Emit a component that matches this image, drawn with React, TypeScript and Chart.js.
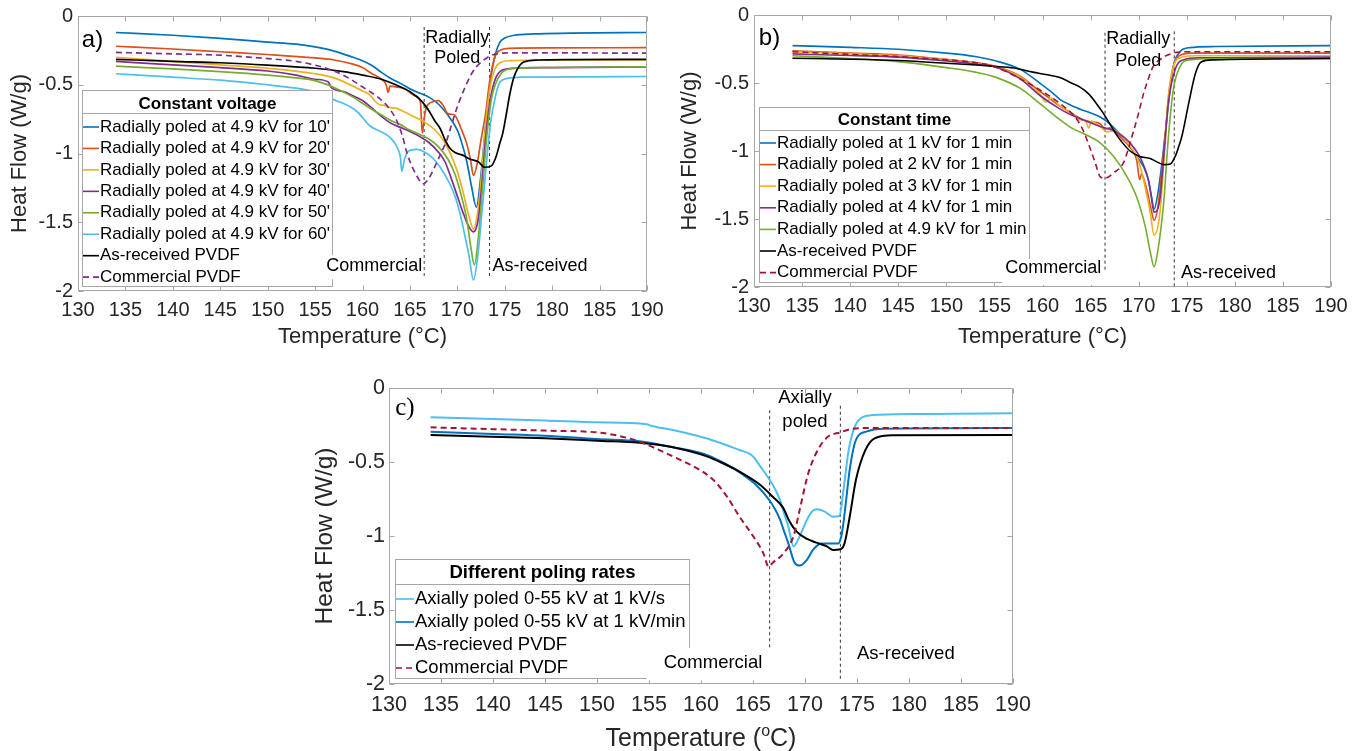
import React, { useEffect, useRef } from "react";
import { Chart, registerables } from "chart.js";

Chart.register(...registerables);

type Pt = [number, number];

const SANS = '"Liberation Sans", Arial, Helvetica, sans-serif';
const SERIF = '"Liberation Serif", "Times New Roman", serif';
const INK = "#262626";
const FRAME = "#a6a6a6";

// ---------- axes ----------
const tempTicks = [130, 135, 140, 145, 150, 155, 160, 165, 170, 175, 180, 185, 190];
const flowTicks = [0, -0.5, -1, -1.5, -2];

// ---------- panel a: constant voltage ----------
const aPoled10: Pt[] = [[134,-0.12],[140,-0.14],[145,-0.163],[150,-0.19],[153,-0.205],[155,-0.225],[157,-0.255],[159,-0.3],[160,-0.325],[161,-0.36],[162,-0.41],[163,-0.455],[164,-0.49],[165,-0.53],[166,-0.56],[167,-0.59],[168,-0.64],[169,-0.72],[170,-0.83],[170.5,-0.93],[171,-1.06],[171.5,-1.24],[172,-1.39],[172.5,-1.15],[173,-0.78],[173.5,-0.46],[174,-0.28],[174.5,-0.19],[175,-0.16],[176,-0.14],[178,-0.13],[182,-0.125],[190,-0.12]];
const aPoled20: Pt[] = [[134,-0.22],[140,-0.24],[145,-0.26],[150,-0.28],[155,-0.305],[157,-0.32],[159,-0.35],[160,-0.375],[161,-0.42],[162,-0.46],[162.5,-0.5],[162.7,-0.555],[162.9,-0.51],[163.5,-0.515],[164.5,-0.53],[165.5,-0.58],[166.1,-0.62],[166.3,-0.85],[166.5,-0.75],[166.7,-0.67],[167.2,-0.63],[168,-0.615],[168.5,-0.65],[169,-0.71],[169.7,-0.72],[170.4,-0.82],[171,-0.93],[171.4,-1.05],[171.7,-1.16],[172.1,-1.07],[172.5,-0.9],[173,-0.7],[173.4,-0.48],[174,-0.29],[174.5,-0.25],[175.5,-0.235],[180,-0.232],[190,-0.23]];
const aPoled30: Pt[] = [[134,-0.3],[140,-0.33],[145,-0.355],[150,-0.38],[155,-0.42],[157,-0.45],[159,-0.51],[160,-0.545],[160.8,-0.575],[161.2,-0.61],[161.8,-0.645],[162.3,-0.65],[162.8,-0.665],[163.5,-0.67],[164.5,-0.7],[165.5,-0.735],[166.5,-0.77],[167.5,-0.82],[168.5,-0.9],[169.2,-0.99],[170,-1.13],[170.6,-1.28],[171.2,-1.45],[171.7,-1.55],[172.2,-1.4],[172.6,-1.12],[173,-0.78],[173.5,-0.5],[174,-0.38],[174.5,-0.34],[175.5,-0.325],[180,-0.32],[190,-0.32]];
const aPoled40: Pt[] = [[134,-0.33],[140,-0.355],[145,-0.375],[150,-0.4],[153,-0.43],[155,-0.46],[156.4,-0.48],[156.7,-0.52],[158,-0.55],[159,-0.58],[160,-0.615],[161,-0.67],[162,-0.73],[163,-0.78],[164,-0.81],[165,-0.84],[166,-0.875],[167,-0.92],[168,-0.99],[168.7,-1.06],[169.3,-1.17],[170,-1.31],[170.6,-1.43],[171.2,-1.53],[171.7,-1.57],[172.2,-1.48],[172.6,-1.22],[173,-0.88],[173.5,-0.6],[174,-0.46],[174.7,-0.395],[176,-0.38],[180,-0.375],[190,-0.37]];
const aPoled50: Pt[] = [[134,-0.365],[140,-0.385],[145,-0.405],[150,-0.43],[153,-0.45],[155,-0.47],[157,-0.52],[159,-0.59],[160,-0.635],[161,-0.68],[162,-0.72],[163,-0.76],[164,-0.79],[165,-0.83],[166,-0.86],[167,-0.895],[168,-0.95],[169,-1.04],[169.8,-1.16],[170.5,-1.33],[171,-1.48],[171.4,-1.67],[171.8,-1.81],[172.2,-1.62],[172.6,-1.3],[173.1,-0.88],[173.6,-0.6],[174,-0.5],[174.6,-0.42],[175.5,-0.385],[178,-0.375],[190,-0.37]];
const aPoled60: Pt[] = [[134,-0.42],[140,-0.445],[145,-0.467],[150,-0.5],[153,-0.525],[155,-0.55],[157,-0.61],[158.7,-0.66],[159.5,-0.7],[160.8,-0.8],[162.2,-0.85],[163,-0.89],[163.7,-0.96],[164,-1.03],[164.15,-1.13],[164.4,-1.05],[164.8,-0.985],[165.7,-0.97],[166.8,-1.0],[167.5,-1.04],[168.2,-1.1],[169.2,-1.22],[169.8,-1.32],[170.3,-1.44],[170.8,-1.6],[171.2,-1.73],[171.7,-1.92],[172.1,-1.78],[172.5,-1.5],[173,-1.12],[173.5,-0.78],[174,-0.59],[174.5,-0.48],[175.2,-0.455],[177,-0.445],[190,-0.44]];
const aReceived: Pt[] = [[134,-0.315],[140,-0.33],[145,-0.34],[150,-0.357],[155,-0.38],[158,-0.405],[160,-0.43],[162,-0.46],[163.5,-0.5],[165,-0.55],[165.6,-0.58],[166.1,-0.61],[166.6,-0.65],[167.1,-0.7],[167.6,-0.76],[168.2,-0.82],[168.7,-0.9],[169.2,-0.96],[169.8,-0.995],[170.5,-1.01],[171.3,-1.04],[172.2,-1.06],[172.9,-1.1],[173.6,-1.09],[174.1,-1.02],[174.5,-0.92],[174.8,-0.85],[175.2,-0.7],[175.5,-0.58],[175.9,-0.46],[176.3,-0.39],[177,-0.335],[178.5,-0.32],[182,-0.317],[190,-0.315]];
const aCommercial: Pt[] = [[134,-0.265],[140,-0.275],[145,-0.285],[150,-0.31],[153,-0.33],[155,-0.358],[157,-0.4],[158.5,-0.45],[160.1,-0.52],[161,-0.56],[161.8,-0.6],[162.8,-0.67],[163.6,-0.76],[164.2,-0.87],[164.7,-1.0],[165.2,-1.09],[165.7,-1.16],[166.4,-1.22],[167,-1.18],[167.8,-1.07],[168.4,-0.98],[168.9,-0.9],[169.4,-0.79],[169.9,-0.68],[170.5,-0.57],[171,-0.49],[171.5,-0.42],[172,-0.37],[173.1,-0.305],[174.1,-0.275],[176,-0.268],[190,-0.27]];
const aLabels = ["Radially poled at 4.9 kV for 10'", "Radially poled at 4.9 kV for 20'", "Radially poled at 4.9 kV for 30'", "Radially poled at 4.9 kV for 40'", "Radially poled at 4.9 kV for 50'", "Radially poled at 4.9 kV for 60'", "As-received PVDF", "Commercial PVDF"];
const aColors = ["#0072BD", "#D95319", "#EDB120", "#7E2F8E", "#77AC30", "#4DBEEE", "#000000", "#7E2F8E"];
const aData = [aPoled10, aPoled20, aPoled30, aPoled40, aPoled50, aPoled60, aReceived, aCommercial];
const aMarkers: [number, number, number][] = [[166.5, -0.08, -1.9], [173.4, -0.08, -1.9]];

// ---------- panel b: constant time ----------
const bKv1: Pt[] = [[134,-0.225],[140,-0.238],[145,-0.252],[150,-0.28],[153,-0.305],[155,-0.335],[157.7,-0.4],[159.7,-0.5],[161,-0.57],[161.8,-0.62],[163,-0.665],[164.2,-0.7],[165,-0.72],[166,-0.75],[167,-0.8],[167.7,-0.85],[168.5,-0.92],[169.1,-0.97],[170.1,-1.07],[170.6,-1.13],[171,-1.21],[171.3,-1.32],[171.6,-1.43],[172,-1.31],[172.4,-1.1],[172.8,-0.85],[173.1,-0.65],[173.6,-0.38],[174.3,-0.27],[175.3,-0.24],[178,-0.232],[190,-0.225]];
const bKv2: Pt[] = [[134,-0.264],[140,-0.28],[145,-0.294],[150,-0.326],[153,-0.35],[155,-0.375],[157.7,-0.45],[159.7,-0.56],[160.5,-0.6],[161.8,-0.67],[163,-0.72],[164.2,-0.77],[165,-0.785],[166,-0.8],[166.5,-0.84],[167,-0.83],[167.5,-0.86],[168.4,-0.92],[169.4,-1.0],[169.8,-1.07],[170.1,-1.21],[170.3,-1.17],[170.6,-1.22],[170.9,-1.3],[171.3,-1.43],[171.6,-1.51],[172,-1.41],[172.4,-1.15],[172.8,-0.85],[173.1,-0.6],[173.6,-0.38],[174.5,-0.29],[175.7,-0.28],[190,-0.28]];
const bKv3: Pt[] = [[134,-0.27],[140,-0.285],[145,-0.3],[150,-0.33],[153,-0.355],[155,-0.38],[157.7,-0.455],[159.7,-0.58],[160.4,-0.64],[160.9,-0.61],[161.8,-0.67],[163.2,-0.73],[163.9,-0.77],[164.5,-0.78],[164.8,-0.83],[165.1,-0.78],[165.6,-0.8],[166,-0.82],[166.7,-0.86],[167.5,-0.85],[168.7,-0.93],[169.8,-1.04],[170.3,-1.15],[170.8,-1.31],[171.2,-1.45],[171.6,-1.62],[172.2,-1.46],[172.6,-1.1],[173.1,-0.6],[173.6,-0.38],[174.5,-0.31],[176,-0.3],[190,-0.3]];
const bKv4: Pt[] = [[134,-0.286],[140,-0.298],[145,-0.31],[150,-0.338],[153,-0.36],[155,-0.38],[157.7,-0.47],[159.7,-0.59],[161.8,-0.69],[163,-0.735],[164.2,-0.77],[166,-0.82],[167.7,-0.86],[169.1,-0.94],[170.1,-1.04],[170.6,-1.12],[171,-1.21],[171.3,-1.33],[171.6,-1.45],[172.2,-1.36],[172.6,-1.05],[173.1,-0.64],[173.8,-0.4],[174.6,-0.33],[176.4,-0.315],[190,-0.31]];
const bKv49: Pt[] = [[134,-0.3],[140,-0.32],[145,-0.343],[150,-0.387],[153,-0.42],[155,-0.455],[157.7,-0.54],[159.7,-0.65],[161.8,-0.77],[163,-0.83],[164.2,-0.87],[166,-0.94],[167.4,-1.04],[168.8,-1.19],[169.8,-1.34],[170.7,-1.56],[171.2,-1.74],[171.6,-1.85],[172,-1.73],[172.6,-1.38],[173.1,-0.89],[173.6,-0.55],[174.3,-0.38],[175.3,-0.33],[178,-0.322],[190,-0.32]];
const bReceived: Pt[] = [[134,-0.318],[140,-0.325],[145,-0.335],[150,-0.355],[155,-0.378],[157,-0.39],[159,-0.42],[160.5,-0.44],[161.8,-0.46],[163,-0.5],[163.9,-0.53],[164.8,-0.58],[165.6,-0.65],[166.3,-0.72],[167,-0.8],[167.6,-0.87],[168.1,-0.92],[169.1,-1.0],[170.1,-1.04],[171.2,-1.055],[171.9,-1.08],[172.6,-1.1],[173.3,-1.095],[173.8,-1.04],[174.2,-0.96],[174.5,-0.89],[175.2,-0.65],[175.9,-0.43],[176.5,-0.345],[177.8,-0.33],[190,-0.32]];
const bCommercial: Pt[] = [[134,-0.27],[140,-0.29],[145,-0.306],[150,-0.33],[153,-0.35],[155,-0.38],[157.7,-0.47],[159.7,-0.55],[161.8,-0.65],[163.6,-0.77],[164.3,-0.86],[164.9,-0.97],[165.5,-1.09],[166,-1.19],[166.5,-1.2],[167.4,-1.16],[168.4,-1.09],[168.9,-0.99],[169.4,-0.87],[170,-0.72],[170.5,-0.58],[171,-0.47],[171.5,-0.38],[172.6,-0.31],[173.6,-0.28],[175,-0.27],[190,-0.27]];
const bLabels = ["Radially poled at 1 kV for 1 min", "Radially poled at 2 kV for 1 min", "Radially poled at 3 kV for 1 min", "Radially poled at 4 kV for 1 min", "Radially poled at 4.9 kV for 1 min", "As-received PVDF", "Commercial PVDF"];
const bColors = ["#0072BD", "#D95319", "#EDB120", "#7E2F8E", "#77AC30", "#000000", "#A2142F"];
const bData = [bKv1, bKv2, bKv3, bKv4, bKv49, bReceived, bCommercial];
const bMarkers: [number, number, number][] = [[166.5, -0.13, -1.88], [173.7, -0.12, -2.0]];

// ---------- panel c: different poling rates ----------
const cPerSecond: Pt[] = [[134,-0.198],[140,-0.21],[145,-0.22],[150,-0.232],[154.8,-0.245],[155.2,-0.255],[157.3,-0.284],[160.5,-0.34],[162,-0.375],[163.7,-0.419],[164.7,-0.445],[165.1,-0.47],[165.7,-0.53],[166.6,-0.62],[167.1,-0.68],[167.6,-0.757],[168,-0.85],[168.4,-0.937],[168.9,-1.07],[169.5,-1.0],[170,-0.92],[170.5,-0.85],[171.1,-0.82],[171.9,-0.835],[172.7,-0.87],[173.3,-0.865],[173.7,-0.69],[174.2,-0.42],[174.8,-0.26],[175.6,-0.195],[177.2,-0.18],[182,-0.175],[190,-0.171]];
const cPerMinute: Pt[] = [[134,-0.295],[140,-0.31],[145,-0.322],[150,-0.345],[154.1,-0.36],[157.3,-0.4],[160.5,-0.45],[162,-0.5],[163.4,-0.555],[165.3,-0.655],[166.6,-0.76],[167.2,-0.83],[167.6,-0.89],[168,-0.97],[168.4,-1.05],[169,-1.18],[169.5,-1.2],[170.2,-1.16],[170.8,-1.09],[171.6,-1.05],[172.4,-1.05],[173.2,-1.05],[173.5,-1.0],[173.7,-0.91],[174,-0.73],[174.3,-0.55],[174.9,-0.35],[175.9,-0.295],[177.5,-0.275],[190,-0.27]];
const cReceived: Pt[] = [[134,-0.318],[140,-0.33],[145,-0.34],[150,-0.356],[154.1,-0.37],[157.3,-0.4],[160.5,-0.46],[162,-0.505],[163.7,-0.565],[165.7,-0.655],[166.9,-0.735],[167.9,-0.81],[168.5,-0.9],[169.2,-0.97],[170.2,-1.02],[171.1,-1.045],[172.1,-1.07],[172.7,-1.095],[173.4,-1.09],[173.8,-1.05],[174.3,-0.87],[174.9,-0.62],[175.8,-0.42],[176.7,-0.34],[178.5,-0.32],[190,-0.318]];
const cCommercial: Pt[] = [[134,-0.266],[140,-0.278],[145,-0.288],[150,-0.3],[152,-0.322],[154.1,-0.363],[156,-0.42],[158,-0.486],[159.9,-0.554],[161.2,-0.622],[162.5,-0.734],[163.7,-0.869],[165,-1.0],[166,-1.117],[166.5,-1.207],[166.9,-1.18],[167.9,-1.12],[168.9,-1.0],[169.5,-0.82],[170.3,-0.58],[171.3,-0.41],[172.2,-0.33],[173.4,-0.3],[174.6,-0.275],[177,-0.27],[190,-0.27]];
const cLabels = ["Axially poled 0-55 kV at 1 kV/s", "Axially poled 0-55 kV at 1 kV/min", "As-recieved PVDF", "Commercial PVDF"];
const cColors = ["#4DBEEE", "#0072BD", "#000000", "#A2142F"];
const cData = [cPerSecond, cPerMinute, cReceived, cCommercial];
const cMarkers: [number, number, number][] = [[166.6, -0.15, -1.76], [173.4, -0.12, -1.98]];

// ---------- types ----------
interface Series { label: string; color: string; dashed: boolean; data: Pt[] }
interface Note { text: string; x: number; y: number; align: CanvasTextAlign; size: number; serif?: boolean; bg?: [number, number, number, number] }
interface LegendSpec {
  left: number; top: number; width: number; height: number; title: string;
  titleY: number; sepY: number; firstRowY: number; rowH: number; sampleW: number; textX: number; fontSize: number;
  series: Series[];
}
interface PanelSpec {
  key: string;
  left: number; top: number; width: number; height: number;
  pad: { top: number; right: number; bottom: number; left: number };
  yAxisW: number; xAxisH: number;
  tickSize: number; xTickPad: number; yTickPad: number;
  titleSize: number; xTitle: string | null; xTitlePad: number; yTitlePad: number;
  supTitleY?: number; supTitleSize?: number;
  lineWidth: number;
  series: Series[]; markers: [number, number, number][]; notes: Note[];
  legend: LegendSpec;
}

const makeSeries = (labels: string[], colors: string[], data: Pt[][]): Series[] =>
  labels.map((label, i) => ({ label, color: colors[i], dashed: i === labels.length - 1, data: data[i] }));

const aSeries = makeSeries(aLabels, aColors, aData);
const bSeries = makeSeries(bLabels, bColors, bData);
const cSeries = makeSeries(cLabels, cColors, cData);

const aNotes: Note[] = [
  { text: "a)", x: 130.4, y: -0.18, align: "left", size: 24 },
  { text: "Radially", x: 170.0, y: -0.16, align: "center", size: 18 },
  { text: "Poled", x: 170.0, y: -0.308, align: "center", size: 18 },
  { text: "Commercial", x: 166.3, y: -1.82, align: "right", size: 18, bg: [1, 2, 1, 4] },
  { text: "As-received", x: 173.7, y: -1.82, align: "left", size: 18 },
];
const bNotes: Note[] = [
  { text: "b)", x: 130.5, y: -0.17, align: "left", size: 24 },
  { text: "Radially", x: 169.95, y: -0.18, align: "center", size: 18 },
  { text: "Poled", x: 169.95, y: -0.336, align: "center", size: 18 },
  { text: "Commercial", x: 166.1, y: -1.86, align: "right", size: 18, bg: [3, 0, 2, 8] },
  { text: "As-received", x: 174.4, y: -1.9, align: "left", size: 18 },
];
const cNotes: Note[] = [
  { text: "c)", x: 130.6, y: -0.14, align: "left", size: 25, serif: true },
  { text: "Axially", x: 170.0, y: -0.07, align: "center", size: 18.5 },
  { text: "poled", x: 170.0, y: -0.227, align: "center", size: 18.5 },
  { text: "Commercial", x: 165.9, y: -1.86, align: "right", size: 18.5, bg: [17, 6, 3, 8] },
  { text: "As-received", x: 175.0, y: -1.8, align: "left", size: 18.5 },
];

const aLegend: LegendSpec = { left: 82, top: 90, width: 251, height: 197, title: "Constant voltage", titleY: 14, sepY: 23, firstRowY: 37, rowH: 21.45, sampleW: 16, textX: 18, fontSize: 17, series: aSeries };
const bLegend: LegendSpec = { left: 759, top: 107, width: 271, height: 176, title: "Constant time", titleY: 13, sepY: 23, firstRowY: 36, rowH: 21.6, sampleW: 16, textX: 18, fontSize: 17, series: bSeries };
const cLegend: LegendSpec = { left: 395, top: 559, width: 295, height: 120, title: "Different poling rates", titleY: 14, sepY: 25, firstRowY: 40, rowH: 23, sampleW: 18, textX: 20, fontSize: 18.5, series: cSeries };

const panels: PanelSpec[] = [
  {
    key: "a", left: 0, top: 0, width: 680, height: 352,
    pad: { top: 16, right: 33, bottom: 0, left: 0 }, yAxisW: 78, xAxisH: 61,
    tickSize: 20, xTickPad: 7, yTickPad: 5, titleSize: 22, xTitle: "Temperature (°C)", xTitlePad: 1.8, yTitlePad: 6.8,
    lineWidth: 1.7, series: aSeries, markers: aMarkers, notes: aNotes, legend: aLegend,
  },
  {
    key: "b", left: 672, top: 0, width: 694, height: 352,
    pad: { top: 15, right: 35, bottom: 0, left: 0 }, yAxisW: 82, xAxisH: 65,
    tickSize: 20, xTickPad: 7.5, yTickPad: 5, titleSize: 22, xTitle: "Temperature (°C)", xTitlePad: 1.8, yTitlePad: 4.8,
    lineWidth: 1.6, series: bSeries, markers: bMarkers, notes: bNotes, legend: bLegend,
  },
  {
    key: "c", left: 300, top: 370, width: 740, height: 381,
    pad: { top: 18, right: 27, bottom: 0, left: 0 }, yAxisW: 89, xAxisH: 67,
    tickSize: 21.5, xTickPad: 8, yTickPad: 4, titleSize: 24.5, xTitle: null, xTitlePad: 0, yTitlePad: 10.3,
    supTitleY: 367, supTitleSize: 25,
    lineWidth: 2, series: cSeries, markers: cMarkers, notes: cNotes, legend: cLegend,
  },
];

function drawLegend(ctx: CanvasRenderingContext2D, lg: LegendSpec, ox: number, oy: number) {
  const L = lg.left - ox;
  const T = lg.top - oy;
  ctx.save();
  ctx.fillStyle = "#fff";
  ctx.fillRect(L, T, lg.width, lg.height);
  ctx.strokeStyle = FRAME;
  ctx.lineWidth = 1;
  ctx.setLineDash([]);
  ctx.strokeRect(L + 0.5, T + 0.5, lg.width - 1, lg.height - 1);
  ctx.beginPath();
  ctx.moveTo(L, T + lg.sepY + 0.5);
  ctx.lineTo(L + lg.width, T + lg.sepY + 0.5);
  ctx.stroke();
  ctx.fillStyle = "#000";
  ctx.textBaseline = "middle";
  ctx.textAlign = "center";
  ctx.font = `bold ${lg.fontSize}px ${SANS}`;
  ctx.fillText(lg.title, L + lg.width / 2, T + lg.titleY);
  ctx.textAlign = "left";
  ctx.font = `${lg.fontSize}px ${SANS}`;
  lg.series.forEach((s, i) => {
    const cy = T + lg.firstRowY + i * lg.rowH;
    ctx.strokeStyle = s.color;
    ctx.lineWidth = 1.6;
    ctx.setLineDash(s.dashed ? [6, 4] : []);
    ctx.beginPath();
    ctx.moveTo(L + 1, cy);
    ctx.lineTo(L + 1 + lg.sampleW, cy);
    ctx.stroke();
    ctx.fillText(s.label, L + lg.textX, cy);
  });
  ctx.setLineDash([]);
  ctx.restore();
}

// ---------- plugin: MATLAB-style box, inward ticks, legend, annotations ----------
function makeFramePlugin(spec: PanelSpec) {
  return {
    id: "frame" + spec.key,
    afterDraw(chart: any) {
      const { ctx, chartArea: ca } = chart;
      const xs = chart.scales.x;
      const ys = chart.scales.y;
      ctx.save();
      ctx.strokeStyle = FRAME;
      ctx.lineWidth = 1;
      const L = Math.round(ca.left) + 0.5;
      const R = Math.round(ca.right) - 0.5;
      const T = Math.round(ca.top) + 0.5;
      const B = Math.round(ca.bottom) - 0.5;
      ctx.strokeRect(L, T, R - L, B - T);
      ctx.beginPath();
      for (const t of tempTicks) {
        const px = Math.round(xs.getPixelForValue(t)) + 0.5;
        ctx.moveTo(px, B); ctx.lineTo(px, B - 5);
        ctx.moveTo(px, T); ctx.lineTo(px, T + 5);
      }
      for (const f of flowTicks) {
        const py = Math.round(ys.getPixelForValue(f)) + 0.5;
        ctx.moveTo(L, py); ctx.lineTo(L + 5, py);
        ctx.moveTo(R, py); ctx.lineTo(R - 5, py);
      }
      ctx.stroke();

      drawLegend(ctx, spec.legend, spec.left, spec.top);

      ctx.textBaseline = "middle";
      for (const n of spec.notes) {
        ctx.font = `${n.size}px ${n.serif ? SERIF : SANS}`;
        ctx.textAlign = n.align;
        const px = xs.getPixelForValue(n.x);
        const py = ys.getPixelForValue(n.y);
        if (n.bg) {
          const w = ctx.measureText(n.text).width;
          const x0 = n.align === "right" ? px - w : n.align === "center" ? px - w / 2 : px;
          ctx.fillStyle = "#fff";
          ctx.fillRect(x0 - n.bg[0], py - n.size / 2 - n.bg[1], w + n.bg[0] + n.bg[2], n.size + n.bg[1] + n.bg[3]);
        }
        ctx.fillStyle = "#000";
        ctx.fillText(n.text, px, py);
      }

      if (spec.supTitleY !== undefined) {
        const size = spec.supTitleSize || 25;
        const supSize = Math.round(size * 0.64);
        const before = "Temperature (";
        const sup = "o";
        const after = "C)";
        ctx.fillStyle = INK;
        ctx.textAlign = "left";
        ctx.textBaseline = "alphabetic";
        ctx.font = `${size}px ${SANS}`;
        const w1 = ctx.measureText(before).width;
        const w3 = ctx.measureText(after).width;
        ctx.font = `${supSize}px ${SANS}`;
        const w2 = ctx.measureText(sup).width;
        const cx = (ca.left + ca.right) / 2;
        let x0 = cx - (w1 + w2 + w3) / 2;
        const base = spec.supTitleY + size * 0.36;
        ctx.font = `${size}px ${SANS}`;
        ctx.fillText(before, x0, base);
        x0 += w1;
        ctx.font = `${supSize}px ${SANS}`;
        ctx.fillText(sup, x0, base - size * 0.42);
        x0 += w2;
        ctx.font = `${size}px ${SANS}`;
        ctx.fillText(after, x0, base);
      }
      ctx.restore();
    },
  };
}

function buildConfig(spec: PanelSpec): any {
  const datasets: any[] = [
    ...spec.series.map((s, i) => ({
      label: s.label,
      data: s.data.map(([x, y]) => ({ x, y })),
      borderColor: s.color,
      backgroundColor: s.color,
      borderWidth: spec.lineWidth,
      borderDash: s.dashed ? [6, 4] : [],
      pointRadius: 0,
      fill: false,
      cubicInterpolationMode: "monotone",
      order: -i,
    })),
    ...spec.markers.map(([x, y1, y2]) => ({
      label: "",
      data: [{ x, y: y1 }, { x, y: y2 }],
      borderColor: "#333",
      borderWidth: 1,
      borderDash: [3, 3],
      pointRadius: 0,
      fill: false,
      order: 100,
    })),
  ];
  return {
    type: "line",
    data: { datasets },
    plugins: [makeFramePlugin(spec)],
    options: {
      animation: false,
      responsive: false,
      devicePixelRatio: 1,
      events: [],
      layout: { padding: spec.pad, autoPadding: false },
      plugins: { legend: { display: false }, tooltip: { enabled: false } },
      scales: {
        x: {
          type: "linear",
          min: 130,
          max: 190,
          afterBuildTicks: (s: any) => { s.ticks = tempTicks.map((v) => ({ value: v })); },
          afterFit: (s: any) => {
            s.height = spec.xAxisH;
            s.paddingLeft = 0; s.paddingRight = 0; s.paddingTop = 0; s.paddingBottom = 0;
          },
          grid: { display: false, drawTicks: false },
          border: { display: false },
          ticks: {
            autoSkip: false, maxRotation: 0, minRotation: 0, padding: spec.xTickPad, color: INK,
            font: { family: SANS, size: spec.tickSize },
            callback: (v: any) => String(v),
          },
          title: spec.xTitle
            ? { display: true, text: spec.xTitle, color: INK, font: { family: SANS, size: spec.titleSize }, padding: { top: 0, bottom: spec.xTitlePad } }
            : { display: false },
        },
        y: {
          type: "linear",
          min: -2,
          max: 0,
          afterBuildTicks: (s: any) => { s.ticks = flowTicks.map((v) => ({ value: v })); },
          afterFit: (s: any) => {
            s.width = spec.yAxisW;
            s.paddingLeft = 0; s.paddingRight = 0; s.paddingTop = 0; s.paddingBottom = 0;
          },
          grid: { display: false, drawTicks: false },
          border: { display: false },
          ticks: {
            autoSkip: false, padding: spec.yTickPad, color: INK,
            font: { family: SANS, size: spec.tickSize },
            callback: (v: any) => String(v),
          },
          title: { display: true, text: "Heat Flow (W/g)", color: INK, font: { family: SANS, size: spec.titleSize }, padding: { top: spec.yTitlePad, bottom: 0 } },
        },
      },
    },
  };
}

function Panel({ spec }: { spec: PanelSpec }) {
  const ref = useRef<HTMLCanvasElement>(null);
  useEffect(() => {
    const chart = new Chart(ref.current as HTMLCanvasElement, buildConfig(spec));
    return () => chart.destroy();
  }, [spec]);
  return (
    <div style={{ position: "absolute", left: spec.left, top: spec.top, width: spec.width, height: spec.height }}>
      <canvas ref={ref} width={spec.width} height={spec.height} style={{ display: "block", width: spec.width, height: spec.height }} />
    </div>
  );
}

export default function App() {
  return (
    <div style={{ position: "absolute", left: 0, top: 0, width: 1366, height: 751, overflow: "hidden", background: "#fff" }}>
      {panels.map((p) => (
        <Panel key={p.key} spec={p} />
      ))}
    </div>
  );
}
